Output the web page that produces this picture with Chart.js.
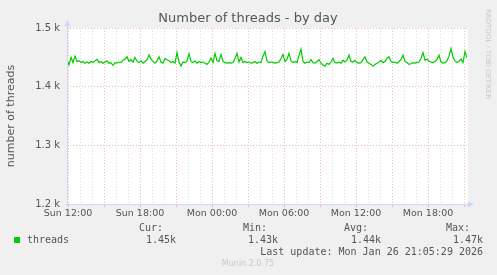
<!DOCTYPE html>
<html>
<head>
<meta charset="utf-8">
<script src="https://cdn.jsdelivr.net/npm/chart.js@4/dist/chart.umd.min.js"></script>
<style>
  html, body { margin: 0; padding: 0; background: #f0f0f0; }
  canvas { display: block; }
</style>
</head>
<body>
<canvas id="threadsChart" width="497" height="275"></canvas>
<script>
// samples every 10 minutes, first one 5 minutes before Sun 12:00
const startMin = -5;
const stepMin = 10;
const threads = [
  1445, 1437, 1450, 1441, 1452, 1443, 1444, 1441, 1443, 1440,
  1442, 1440, 1443, 1441, 1444, 1447, 1441, 1443, 1440, 1442,
  1444, 1440, 1441, 1436, 1441, 1440, 1442, 1441, 1445, 1447,
  1451, 1443, 1446, 1442, 1450, 1443, 1441, 1444, 1440, 1443,
  1446, 1454, 1447, 1443, 1440, 1444, 1451, 1442, 1440, 1448,
  1446, 1444, 1441, 1443, 1440, 1458, 1442, 1435, 1442, 1441,
  1444, 1456, 1443, 1441, 1444, 1440, 1443, 1441, 1442, 1440,
  1438, 1442, 1449, 1441, 1457, 1444, 1443, 1455, 1443, 1441,
  1440, 1441, 1440, 1441, 1448, 1457, 1442, 1450, 1441, 1443,
  1441, 1442, 1440, 1441, 1443, 1440, 1442, 1441, 1452, 1460,
  1444, 1441, 1442, 1441, 1440, 1441, 1442, 1448, 1455, 1443,
  1447, 1457, 1444, 1441, 1443, 1441, 1453, 1464, 1443, 1440,
  1442, 1441, 1446, 1441, 1440, 1443, 1446, 1440, 1437, 1435,
  1440, 1438, 1442, 1448, 1441, 1440, 1442, 1440, 1445, 1442,
  1445, 1454, 1443, 1442, 1445, 1441, 1440, 1441, 1446, 1451,
  1442, 1440, 1438, 1435, 1438, 1440, 1442, 1445, 1441, 1443,
  1448, 1451, 1443, 1441, 1442, 1440, 1443, 1446, 1454, 1443,
  1441, 1438, 1439, 1441, 1440, 1441, 1442, 1448, 1458, 1445,
  1447, 1443, 1442, 1441, 1443, 1446, 1454, 1442, 1440, 1441,
  1444, 1452, 1465, 1450, 1444, 1441, 1443, 1447, 1441, 1460,
  1449
];
const xTickLabels = ['Sun 12:00', 'Sun 18:00', 'Mon 00:00', 'Mon 06:00', 'Mon 12:00', 'Mon 18:00'];
const statNames = ['Cur:', 'Min:', 'Avg:', 'Max:'];
const statValues = ['1.45k', '1.43k', '1.44k', '1.47k'];
const lastUpdate = 'Last update: Mon Jan 26 21:05:29 2026';

const majorGrid = 'rgba(235, 140, 140, 0.6)';
const minorGrid = 'rgba(200, 200, 200, 0.6)';
const axisColor = '#cfd6f8';
const fontColor = '#555';

const points = threads.map((v, i) => ({ x: startMin + i * stepMin, y: v }));

// background, white canvas, axes with arrows and all the rrdtool texts
const muninDecor = {
    id: 'muninDecor',
    beforeDraw(chart) {
        const ctx = chart.ctx;
        const a = chart.chartArea;
        ctx.save();
        ctx.fillStyle = '#f0f0f0';
        ctx.fillRect(0, 0, chart.width, chart.height);
        ctx.fillStyle = '#ffffff';
        ctx.fillRect(a.left, a.top, a.right - a.left + 1, a.bottom - a.top);
        ctx.restore();
    },
    afterDraw(chart) {
        const ctx = chart.ctx;
        const a = chart.chartArea;
        const x0 = Math.round(a.left) + 0.5;
        const y0 = Math.round(a.bottom) + 0.5;
        ctx.save();
        ctx.strokeStyle = axisColor;
        ctx.fillStyle = axisColor;
        ctx.lineWidth = 1;
        ctx.beginPath();
        ctx.moveTo(x0, y0 + 2);
        ctx.lineTo(x0, a.top - 4);
        ctx.moveTo(x0 - 2, y0);
        ctx.lineTo(a.right + 3, y0);
        ctx.stroke();
        // arrows
        ctx.beginPath();
        ctx.moveTo(x0, a.top - 8);
        ctx.lineTo(x0 - 3, a.top - 2);
        ctx.lineTo(x0 + 3, a.top - 2);
        ctx.closePath();
        ctx.fill();
        ctx.beginPath();
        ctx.moveTo(a.right + 7, y0);
        ctx.lineTo(a.right + 1, y0 - 3);
        ctx.lineTo(a.right + 1, y0 + 3);
        ctx.closePath();
        ctx.fill();

        // title
        ctx.fillStyle = fontColor;
        ctx.textAlign = 'center';
        ctx.textBaseline = 'middle';
        ctx.font = '13px "DejaVu Sans"';
        ctx.fillText('Number of threads - by day', 248, 19);

        // y axis title
        ctx.save();
        ctx.translate(11, 116);
        ctx.rotate(-Math.PI / 2);
        ctx.font = '11px "DejaVu Sans"';
        ctx.fillText('number of threads', 0, 0);
        ctx.restore();

        // rrdtool watermark
        ctx.save();
        ctx.translate(488, 54);
        ctx.rotate(Math.PI / 2);
        ctx.fillStyle = '#c8c8c8';
        ctx.font = '7px "DejaVu Sans"';
        ctx.fillText('RRDTOOL / TOBI OETIKER', 0, 0);
        ctx.restore();

        // legend
        ctx.fillStyle = '#00cc00';
        ctx.fillRect(14, 237, 6, 6);
        ctx.fillStyle = fontColor;
        ctx.font = '10px "DejaVu Sans Mono"';
        ctx.textAlign = 'left';
        ctx.fillText('threads', 27, 240);
        ctx.textAlign = 'right';
        const nameRight = [163, 267, 368, 470];
        const valueRight = [176, 278, 381, 483];
        statNames.forEach((n, i) => ctx.fillText(n, nameRight[i], 228));
        statValues.forEach((v, i) => ctx.fillText(v, valueRight[i], 240));
        ctx.fillText(lastUpdate, 483, 252);

        ctx.textAlign = 'center';
        ctx.fillStyle = '#c8c8c8';
        ctx.font = '8px "DejaVu Sans"';
        ctx.fillText('Munin 2.0.75', 248, 264);
        ctx.restore();
    }
};

const chartCtx = document.getElementById('threadsChart').getContext('2d');
const threadsChart = new Chart(chartCtx, {
    type: 'line',
    data: {
        datasets: [{
            label: 'threads',
            data: points,
            borderColor: '#00cc00',
            borderWidth: 1.2,
            pointRadius: 0,
            tension: 0,
            fill: false
        }]
    },
    options: {
        responsive: false,
        animation: false,
        devicePixelRatio: 1,
        layout: { padding: { left: 0, right: 30, top: 28, bottom: 0 } },
        plugins: {
            legend: { display: false },
            tooltip: { enabled: false }
        },
        scales: {
            x: {
                type: 'linear',
                min: -5,
                max: 1995,
                afterFit: s => { s.height = 71; },
                ticks: {
                    stepSize: 60,
                    includeBounds: false,
                    autoSkip: false,
                    maxRotation: 0,
                    padding: 1,
                    color: fontColor,
                    font: { family: 'DejaVu Sans', size: 9.5 },
                    callback: v => (v % 360 === 0 ? xTickLabels[v / 360] : '')
                },
                grid: {
                    color: c => (c.tick && c.tick.value % 180 === 0 ? majorGrid : minorGrid),
                    tickColor: c => (c.tick && c.tick.value % 180 === 0 ? majorGrid : 'rgba(0,0,0,0)'),
                    tickLength: 3,
                    lineWidth: 1
                },
                border: { display: false, dash: [1, 2] }
            },
            y: {
                min: 1200,
                max: 1500,
                afterFit: s => { s.width = 67; },
                ticks: {
                    stepSize: 100,
                    padding: 7,
                    color: fontColor,
                    font: { family: 'DejaVu Sans', size: 10 },
                    callback: v => (v / 1000).toFixed(1) + ' k'
                },
                grid: {
                    color: majorGrid,
                    drawTicks: false,
                    lineWidth: 1
                },
                border: { display: false, dash: [1, 2] }
            }
        }
    },
    plugins: [muninDecor]
});
</script>
</body>
</html>
